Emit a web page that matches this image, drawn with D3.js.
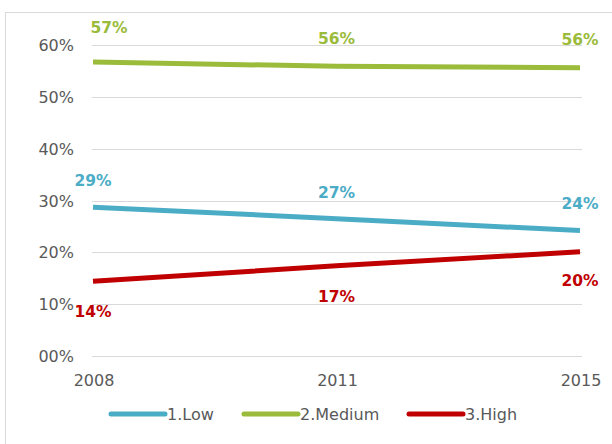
<!DOCTYPE html>
<html>
<head>
<meta charset="utf-8">
<script src="https://cdn.jsdelivr.net/npm/d3@7"></script>
<style>
html,body{margin:0;padding:0;background:#fff;}
svg{display:block;}
</style>
</head>
<body>
<svg id="chart" width="612" height="444"></svg>
<script>
const years = ["2008", "2011", "2015"];
const seriesNames = ["1.Low", "2.Medium", "3.High"];
const lowValues = [28.7, 26.5, 24.2];
const mediumValues = [56.7, 55.9, 55.6];
const highValues = [14.4, 17.4, 20.1];
const yTicks = [0, 10, 20, 30, 40, 50, 60];
const yTickLabels = ["00%", "10%", "20%", "30%", "40%", "50%", "60%"];
const colors = ["#4bacc6", "#9bbb3b", "#c00000"];

// label offsets (layout only): [dx, dy] relative to point
const labelOffsets = [
  [[0, -21], [0, -21], [0, -22]],
  [[16, -29], [0, -22], [0, -23]],
  [[0, 36], [0, 36], [0, 34]]
];

const series = [lowValues, mediumValues, highValues].map((v, i) => ({
  name: seriesNames[i], values: v, color: colors[i]
}));

const svg = d3.select("#chart");
const font = "'DejaVu Sans', Verdana, sans-serif";
const textColor = "#595959";

// outer border
svg.append("rect").attr("x", 5.5).attr("y", 12.5).attr("width", 700).attr("height", 500)
  .attr("fill", "none").attr("stroke", "#d9d9d9").attr("stroke-width", 1);

const x = d3.scalePoint().domain(years).range([93, 580]);
const y = d3.scaleLinear().domain([0, 60]).range([356, 45]);

// gridlines
svg.append("g").selectAll("line").data(yTicks).join("line")
  .attr("x1", 92).attr("x2", 582)
  .attr("y1", d => Math.round(y(d)) + 0.5).attr("y2", d => Math.round(y(d)) + 0.5)
  .attr("stroke", "#d9d9d9").attr("stroke-width", 1);

// y axis labels
const yAxis = d3.axisLeft(y).tickValues(yTicks).tickSize(0).tickPadding(0)
  .tickFormat((d, i) => yTickLabels[i]);
const gy = svg.append("g").attr("transform", "translate(74,0)").call(yAxis);
gy.select(".domain").remove();
gy.selectAll("text").attr("font-family", font).attr("font-size", 16)
  .attr("fill", textColor).attr("dy", "0.35em");

// x axis labels
const xAxis = d3.axisBottom(x).tickSize(0).tickPadding(0);
const gx = svg.append("g").attr("transform", "translate(0,375)").call(xAxis);
gx.select(".domain").remove();
gx.selectAll("text").attr("font-family", font).attr("font-size", 16)
  .attr("fill", textColor).attr("dy", "0.71em").attr("dx", 0.5);

// lines
const line = d3.line().x((d, i) => x(years[i])).y(d => y(d));
svg.append("g").selectAll("path").data(series).join("path")
  .attr("d", d => line(d.values))
  .attr("fill", "none").attr("stroke", d => d.color)
  .attr("stroke-width", 5).attr("stroke-linejoin", "round");

// data labels
series.forEach((s, si) => {
  svg.append("g").selectAll("text").data(s.values).join("text")
    .attr("x", (d, i) => x(years[i]) + labelOffsets[si][i][0])
    .attr("y", (d, i) => y(d) + labelOffsets[si][i][1])
    .attr("text-anchor", "middle")
    .attr("font-family", font).attr("font-size", 15.5).attr("font-weight", "bold")
    .attr("fill", s.color)
    .text(d => Math.round(d) + "%");
});

// legend
const legendX = [111, 244, 409];
const lg = svg.append("g").selectAll("g").data(series).join("g")
  .attr("transform", (d, i) => `translate(${legendX[i]},414)`);
lg.append("line").attr("x1", 0).attr("x2", 54).attr("y1", 0).attr("y2", 0)
  .attr("stroke", d => d.color).attr("stroke-width", 5).attr("stroke-linecap", "round");
lg.append("text").attr("x", 56).attr("y", 6)
  .attr("font-family", font).attr("font-size", 16).attr("fill", textColor)
  .text(d => d.name);
</script>
</body>
</html>
